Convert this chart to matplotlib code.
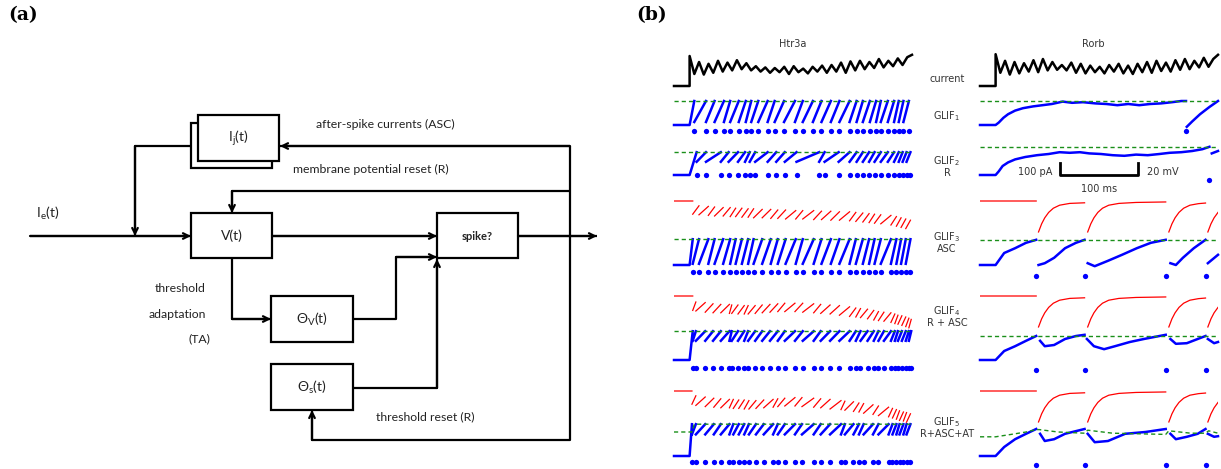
import numpy as np
import matplotlib.pyplot as plt
from matplotlib.patches import Rectangle

W, H = 1221, 469
T_END = 305          # ms shown in each column of panel (b)
nan = np.nan

# ---------------- panel (b) data ----------------
# stimulus currents in pA, evenly spaced from step onset (20 ms) to T_END
htr3a_current = [250, 100, 200, 95, 185, 110, 210, 120, 195, 130, 215, 140, 190, 130,
                 165, 120, 155, 110, 150, 115, 160, 100, 165, 115, 145, 105, 160, 120,
                 170, 110, 175, 120, 195, 110, 205, 130, 210, 140, 200, 150, 225, 155,
                 210, 165, 230, 175, 240, 260]
rorb_current = [265, 110, 210, 95, 200, 105, 190, 120, 215, 115, 225, 130, 200, 135,
                175, 130, 195, 110, 185, 105, 170, 115, 160, 105, 175, 120, 185, 105,
                170, 100, 185, 115, 200, 110, 210, 125, 195, 120, 215, 135, 225, 140,
                210, 155, 235, 160, 225, 260]

# Htr3a spike times (ms)
htr3a_spk_g1 = [26, 41, 52, 64, 72, 83, 92, 99, 108, 120, 129, 141, 155, 165, 178, 189,
                201, 212, 225, 234, 242, 251, 259, 265, 274, 282, 288, 294, 301]
htr3a_spk_g2 = [29, 41, 60, 70, 82, 91, 97, 104, 120, 131, 142, 157, 186, 193, 211, 225,
                234, 242, 250, 257, 265, 274, 282, 288, 293, 298, 303]
htr3a_spk_g3 = [24, 32, 44, 52, 63, 72, 79, 87, 95, 102, 113, 124, 133, 143, 156, 165,
                179, 189, 201, 212, 225, 233, 242, 250, 257, 265, 278, 285, 291, 297, 303]
htr3a_spk_g4 = [24, 28, 40, 50, 60, 71, 74, 82, 90, 95, 104, 113, 123, 133, 142, 155,
                165, 179, 188, 200, 212, 225, 233, 239, 248, 256, 262, 269, 278, 283,
                287, 292, 297, 301, 304]
htr3a_spk_g5 = [23, 28, 40, 51, 60, 71, 76, 83, 90, 96, 105, 115, 127, 133, 142, 155,
                164, 179, 188, 200, 214, 219, 230, 237, 243, 255, 262, 275, 280, 285,
                289, 294, 298, 303]

# Htr3a (threshold, reset) in mV above rest
htr3a_levels = {'g1': (40, 5), 'g2': (38, 22), 'g3': (43, 2), 'g4': (48, 32), 'g5': (53, 36)}
htr3a_g5_thr_t = [0, 23, 26, T_END]
htr3a_g5_thr = [40, 40, 53, 53]

# Htr3a after-spike current strokes: level after each spike (pA) and recovery per stroke
htr3a_asc_g3 = [-110, -115, -120, -125, -125, -130, -130, -135, -135, -140, -140, -145,
                -145, -150, -150, -150, -155, -155, -160, -160, -165, -170, -175, -180,
                -185, -190, -200, -210, -220, -230, -240]
htr3a_asc_g4 = [-120, -125, -135, -140, -140, -145, -145, -150, -150, -150, -145, -140,
                -135, -130, -130, -130, -135, -140, -145, -150, -160, -170, -175, -180,
                -190, -200, -205, -210, -220, -230, -235, -245, -255, -265, -270]
htr3a_asc_g5 = [-110, -120, -130, -135, -140, -140, -145, -145, -150, -150, -145, -140,
                -135, -130, -125, -125, -130, -135, -140, -150, -155, -160, -170, -175,
                -185, -195, -205, -215, -225, -235, -245, -250, -260, -270]
asc_rise = 70

# Rorb voltage traces (mV above rest), NaN separates the pieces between spikes
rorb_g1_t = [0, 20, 24, 30, 36, 45, 55, 68, 80, 92, 106, 118, 132, 148, 162, 176, 190,
             204, 218, 232, 246, 258, 264, nan, 265, 272, 282, 294, 305]
rorb_g1_v = [0, 0, 4, 12, 18, 24, 28, 31, 33, 35, 39, 37, 38, 36, 35, 33, 35, 33, 35, 36,
             38, 40, 40, nan, -3, 6, 18, 30, 40]
rorb_g2_t = [0, 20, 24, 29, 36, 45, 58, 73, 88, 102, 115, 128, 140, 155, 170, 185, 200,
             215, 230, 243, 258, 272, 285, 294, nan, 297, 305]
rorb_g2_v = [0, 0, 6, 15, 21, 26, 30, 33, 35, 38, 37, 38, 36, 35, 33, 32, 34, 33, 35, 37,
             38, 40, 43, 47, nan, 36, 40]
rorb_g3_t = [0, 20, 31, 45, 59, 72, nan, 75, 83, 95, 109, 123, 134, nan, 138, 147, 164,
             182, 201, 219, 238, nan, 244, 251, 260, 274, 289, nan, 292, 305]
rorb_g3_v = [0, 0, 20, 28, 37, 42, nan, 0, 3, 12, 28, 37, 42, nan, 3, -2, 7, 17, 28, 37,
             42, nan, 3, 0, 12, 28, 42, nan, 3, 17]
rorb_g4_t = [0, 20, 31, 45, 59, 72, nan, 77, 83, 95, 109, 123, 134, nan, 137, 146, 159,
             173, 192, 210, 238, nan, 244, 251, 265, 279, 289, nan, 292, 300, 305]
rorb_g4_v = [0, 0, 15, 23, 32, 40, nan, 32, 23, 25, 35, 40, 42, nan, 35, 23, 18, 23, 30,
             35, 42, nan, 35, 27, 28, 35, 40, nan, 35, 28, 30]
rorb_g5_t = [0, 20, 31, 45, 59, 72, nan, 77, 83, 95, 109, 134, nan, 138, 147, 164, 186,
             212, 238, nan, 244, 251, 265, 279, 289, nan, 292, 300, 305]
rorb_g5_v = [0, 0, 15, 28, 37, 45, nan, 37, 25, 28, 37, 45, nan, 37, 23, 25, 37, 40, 45,
             nan, 37, 28, 32, 37, 45, nan, 37, 32, 33]
rorb_g5_thr_t = [0, 20, 40, 59, 72, 76, 100, 134, 138, 170, 238, 242, 270, 289, 293, 305]
rorb_g5_thr = [32, 32, 36, 40, 44, 44, 40, 38, 43, 38, 36, 42, 38, 38, 42, 38]
rorb_thr = {'g1': 40, 'g2': 47, 'g3': 42, 'g4': 40}
rorb_spk = {'g1': [264], 'g2': [294], 'g3': [72, 134, 238, 289]}

# Rorb after-spike current (pA)
rorb_asc_t = [0, 72, nan, 75, 79, 83, 88, 94, 102, 115, 134, nan, 138, 142, 146, 151, 157,
              165, 178, 200, 238, nan, 242, 246, 250, 255, 261, 269, 280, 289, nan, 292,
              296, 300, 305]
rorb_asc = [0, 0, nan, -258, -190, -140, -95, -60, -35, -20, -15, nan, -258, -190, -140,
            -95, -60, -35, -20, -12, -8, nan, -258, -190, -140, -95, -60, -35, -22, -17,
            nan, -258, -190, -140, -95]

# spike marker level (mV) per row
dot_level = {'Htr3a': {'g1': -10, 'g2': 0, 'g3': -12, 'g4': -13, 'g5': -10},
             'Rorb': {'g1': -10, 'g2': -8, 'g3': -18, 'g4': -17, 'g5': -15}}

row_labels = [('current', None, 79), ('GLIF$_1$', None, 116), ('GLIF$_2$', 'R', 161),
              ('GLIF$_3$', 'ASC', 237), ('GLIF$_4$', 'R + ASC', 311),
              ('GLIF$_5$', 'R+ASC+AT', 422)]

# ---------------- layout ----------------
COL_X = {'Htr3a': 674, 'Rorb': 980}
COL_W = 238
ROW_BASE = {'cur': 86, 'g1': 125, 'g2': 175, 'g3': 265, 'g4': 360, 'g5': 456,
            'a3': 201, 'a4': 296, 'a5': 391}
PX_MV = 0.6     # px per mV
PX_PA = 0.12    # px per pA

BLUE, RED, GREEN = '#0000ff', '#ff0000', '#1a8f1a'
TXT = '#333333'

fig = plt.figure(figsize=(W / 100, H / 100), dpi=100)


def fpos(x, y):
    return x / W, 1 - y / H


def trace_axes(col, row, ppu, lo, hi):
    base = ROW_BASE[row]
    top = base - hi * ppu
    bot = base - lo * ppu
    ax = fig.add_axes([COL_X[col] / W, 1 - bot / H, COL_W / W, (bot - top) / H])
    ax.set_xlim(0, T_END)
    ax.set_ylim(lo, hi)
    ax.axis('off')
    return ax


def strokes(spikes, thr, reset, onset=20):
    t = [0, onset, spikes[0]]
    v = [0, 0, thr]
    for a, b in zip(spikes[:-1], spikes[1:]):
        t += [nan, a, b]
        v += [nan, reset, thr]
    return t, v


def asc_strokes(spikes, lows, rise):
    t = [0, spikes[0]]
    v = [0, 0]
    for a, b, low in zip(spikes[:-1], spikes[1:], lows):
        t += [nan, a, b]
        v += [nan, low, low + rise]
    return t, v


def v_row(col, row):
    return trace_axes(col, row, PX_MV, -30, 60)


def asc_row(col, row):
    return trace_axes(col, row, PX_PA, -300, 40)


def thr_line(ax, t, v):
    ax.plot(t, v, color=GREEN, lw=1.0, ls=(0, (3, 2.2)), zorder=3)


def spikes_dots(ax, spk, level):
    ax.plot(spk, [level] * len(spk), 'o', color=BLUE, ms=3.8, mec='none', clip_on=False)


# ---- currents ----
for col, cur in [('Htr3a', htr3a_current), ('Rorb', rorb_current)]:
    ax = trace_axes(col, 'cur', PX_PA, -40, 300)
    t = np.concatenate([[0, 20], np.linspace(20, T_END, len(cur))])
    ax.plot(t, np.concatenate([[0, 0], cur]), color='black', lw=1.8, clip_on=False)

# ---- Htr3a voltage rows ----
htr3a_spk = {'g1': htr3a_spk_g1, 'g2': htr3a_spk_g2, 'g3': htr3a_spk_g3,
             'g4': htr3a_spk_g4, 'g5': htr3a_spk_g5}
for row, spk in htr3a_spk.items():
    ax = v_row('Htr3a', row)
    thr, reset = htr3a_levels[row]
    t, v = strokes(spk, thr, reset)
    ax.plot(t, v, color=BLUE, lw=1.8, clip_on=False)
    if row == 'g5':
        thr_line(ax, htr3a_g5_thr_t, htr3a_g5_thr)
    else:
        thr_line(ax, [0, T_END], [thr, thr])
    spikes_dots(ax, spk, dot_level['Htr3a'][row])

for row, spk, lows in [('a3', htr3a_spk_g3, htr3a_asc_g3), ('a4', htr3a_spk_g4, htr3a_asc_g4),
                       ('a5', htr3a_spk_g5, htr3a_asc_g5)]:
    ax = asc_row('Htr3a', row)
    t, v = asc_strokes(spk, lows, asc_rise)
    ax.plot(t, v, color=RED, lw=0.9)

# ---- Rorb voltage rows ----
rorb_traces = {'g1': (rorb_g1_t, rorb_g1_v), 'g2': (rorb_g2_t, rorb_g2_v),
               'g3': (rorb_g3_t, rorb_g3_v), 'g4': (rorb_g4_t, rorb_g4_v),
               'g5': (rorb_g5_t, rorb_g5_v)}
for row, (t, v) in rorb_traces.items():
    ax = v_row('Rorb', row)
    ax.plot(t, v, color=BLUE, lw=1.8, clip_on=False)
    if row == 'g5':
        thr_line(ax, rorb_g5_thr_t, rorb_g5_thr)
    else:
        thr_line(ax, [0, T_END], [rorb_thr[row]] * 2)
    spk = rorb_spk.get(row, rorb_spk['g3'])
    spikes_dots(ax, spk, dot_level['Rorb'][row])
    if row == 'g2':
        # scale bar: 100 ms, 20 mV / 100 pA
        ax.plot([102, 102, 202, 202], [20, 0, 0, 20], color='black', lw=2, clip_on=False)
        ax.text(93, 5, '100 pA', ha='right', va='center', fontsize=7, color=TXT)
        ax.text(214, 5, '20 mV', ha='left', va='center', fontsize=7, color=TXT)
        ax.text(152, -23, '100 ms', ha='center', va='center', fontsize=7, color=TXT)

for row in ['a3', 'a4', 'a5']:
    ax = asc_row('Rorb', row)
    ax.plot(rorb_asc_t, rorb_asc, color=RED, lw=0.9)

# ---- panel (b) text ----
fig.text(*fpos(793, 44), 'Htr3a', ha='center', va='center', fontsize=7, color=TXT)
fig.text(*fpos(1093, 44), 'Rorb', ha='center', va='center', fontsize=7, color=TXT)
for name, sub, y in row_labels:
    fig.text(*fpos(947, y), name, ha='center', va='center', fontsize=7, color=TXT)
    if sub:
        fig.text(*fpos(947, y + 12), sub, ha='center', va='center', fontsize=7, color=TXT)

# ---------------- panel (a): block diagram ----------------
ax = fig.add_axes([0, 0, 620 / W, 1])
ax.set_xlim(0, 620)
ax.set_ylim(H, 0)
ax.axis('off')

boxes = [(191, 123, 272, 168), (198, 115, 279, 161), (191, 213, 272, 258),
         (437, 213, 518, 258), (271, 296, 353, 342), (271, 364, 353, 410)]
for x0, y0, x1, y1 in boxes:
    ax.add_patch(Rectangle((x0, y0), x1 - x0, y1 - y0, fc='white', ec='black', lw=1.6, zorder=2))

wires = [
    [(30, 236), (191, 236)],
    [(191, 146), (135, 146), (135, 236)],
    [(570, 146), (280, 146)],
    [(570, 191), (232, 191), (232, 213)],
    [(272, 236), (437, 236)],
    [(232, 258), (232, 319), (271, 319)],
    [(353, 319), (396, 319), (396, 257), (437, 257)],
    [(353, 388), (437, 388), (437, 259)],
    [(518, 236), (597, 236)],
    [(570, 146), (570, 440), (312, 440), (312, 410)],
]
for pts in wires:
    xs, ys = zip(*pts)
    ax.plot(xs, ys, color='black', lw=1.6, solid_capstyle='butt', zorder=1)
    ax.annotate('', xy=pts[-1], xytext=pts[-2],
                arrowprops=dict(arrowstyle='->', lw=1.6, color='black',
                                shrinkA=0, shrinkB=0, mutation_scale=10), zorder=3)

fam = ['Lato', 'DejaVu Sans']
DTXT = '#222222'
box_labels = [(238, 138, r'I$_\mathregular{j}$(t)'), (232, 236, 'V(t)'),
              (312, 319, r'Θ$_\mathregular{V}$(t)'), (312, 387, r'Θ$_\mathregular{s}$(t)')]
for x, y, s in box_labels:
    ax.text(x, y, s, ha='center', va='center', fontsize=10, family=fam, color=DTXT, zorder=4)
ax.text(477, 236, 'spike?', ha='center', va='center', fontsize=8, fontweight='bold',
        family=fam, color=DTXT, zorder=4)
ax.text(48, 213, r'I$_\mathregular{e}$(t)', ha='center', va='center', fontsize=10,
        family=fam, color=DTXT)

notes = [(316, 124, 'after-spike currents (ASC)', 'left'),
         (293, 169, 'membrane potential reset (R)', 'left'),
         (206, 289, 'threshold', 'right'),
         (206, 314, 'adaptation', 'right'),
         (210, 339, '(TA)', 'right'),
         (376, 417, 'threshold reset (R)', 'left')]
for x, y, s, ha in notes:
    ax.text(x, y, s, ha=ha, va='center', fontsize=8.8, family=fam, color=DTXT)

# panel letters
fig.text(*fpos(8, 15), '(a)', family='DejaVu Serif', fontweight='bold', fontsize=13.5,
         va='center')
fig.text(*fpos(636, 15), '(b)', family='DejaVu Serif', fontweight='bold', fontsize=13.5,
         va='center')

fig.savefig('out.png', dpi=100)
